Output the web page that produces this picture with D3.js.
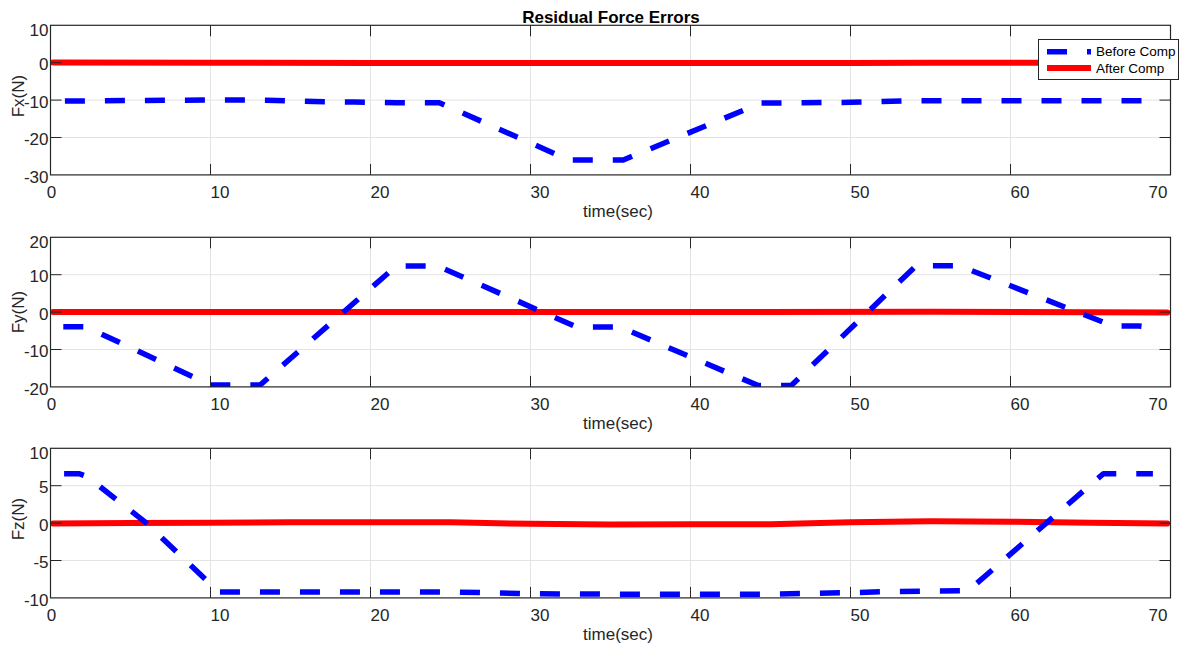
<!DOCTYPE html>
<html>
<head>
<meta charset="utf-8">
<script src="https://cdn.jsdelivr.net/npm/d3@7"></script>
<style>
  html, body { margin: 0; padding: 0; background: #ffffff; }
  svg { display: block; font-family: "Liberation Sans", Arial, Helvetica, sans-serif; }
</style>
</head>
<body>
<svg id="chart" width="1183" height="648"></svg>
<script>
// ---- data -------------------------------------------------------------
const chartTitle = "Residual Force Errors";
const xLabel = "time(sec)";
const xTicks = [0, 10, 20, 30, 40, 50, 60, 70];
const seriesNames = ["Before Comp", "After Comp"];

// Fx
const fxBeforeT = [0.9, 6, 11, 13.5, 16.5, 19, 21.6, 24.3, 32.4, 35.8, 44.4, 47, 50, 53.5, 69.1];
const fxBeforeV = [-10.25, -10.1, -9.95, -10.05, -10.4, -10.5, -10.7, -10.7, -26.0, -26.0, -10.8, -10.7, -10.6, -10.2, -10.2];
const fxAfterT = [0.15, 10, 20, 30, 40, 50, 55, 60, 69.8];
const fxAfterV = [0.05, 0, -0.05, -0.1, -0.1, -0.05, 0, 0, 0];
const fxTicks = [-30, -20, -10, 0, 10];

// Fy
const fyBeforeT = [0.8, 2.2, 10.0, 13.1, 21.6, 24.2, 32.9, 35.6, 44.2, 46.3, 54.1, 56.8, 66.4, 68.0, 69.1];
const fyBeforeV = [-3.9, -3.9, -19.5, -19.5, 12.3, 12.3, -4.0, -4.0, -19.6, -19.6, 12.4, 12.4, -3.7, -3.7, -4.3];
const fyAfterT = [0.15, 20, 40, 55, 69.8];
const fyAfterV = [0, 0.05, 0, 0.1, -0.1];
const fyTicks = [-20, -10, 0, 10, 20];

// Fz
const fzBeforeT = [0.85, 1.8, 2.3, 6.0, 10.5, 20, 25, 30, 35, 45, 50, 52.5, 57.35, 65.8, 68.9];
const fzBeforeV = [6.6, 6.6, 6.2, 0, -9.2, -9.2, -9.2, -9.45, -9.5, -9.5, -9.3, -9.15, -9.05, 6.6, 6.6];
const fzAfterT = [0.15, 5, 10, 15, 20, 25, 30, 35, 40, 45, 50, 55, 60, 65, 69.8];
const fzAfterV = [-0.05, 0, 0.05, 0.1, 0.13, 0.1, -0.1, -0.2, -0.17, -0.17, 0.1, 0.25, 0.18, 0.05, -0.05];
const fzTicks = [-10, -5, 0, 5, 10];

// ---- layout -----------------------------------------------------------
const svg = d3.select("#chart");
const left = 50.5, right = 1170.5;
const panelTops = [25.3, 237.3, 448.3];
const panelH = 149.6;
const tickLen = 11;
const axisColor = "#262626";
const gridColor = "#e3e3e3";
const fontSize = 17;

const panels = [
  { label: "Fx(N)", domain: [-30, 10], ticks: fxTicks, bT: fxBeforeT, bV: fxBeforeV, aT: fxAfterT, aV: fxAfterV, labelShift: -4 },
  { label: "Fy(N)", domain: [-20, 20], ticks: fyTicks, bT: fyBeforeT, bV: fyBeforeV, aT: fyAfterT, aV: fyAfterV, labelShift: 0 },
  { label: "Fz(N)", domain: [-10, 10], ticks: fzTicks, bT: fzBeforeT, bV: fzBeforeV, aT: fzAfterT, aV: fzAfterV, labelShift: -4 }
];

const x = d3.scaleLinear().domain([0, 70]).range([left, right]);

const defs = svg.append("defs");

panels.forEach((p, i) => {
  const top = panelTops[i], bottom = top + panelH;
  const y = d3.scaleLinear().domain(p.domain).range([bottom, top]);
  const g = svg.append("g");

  // grid
  g.append("g").selectAll("line").data(xTicks.slice(1, -1)).join("line")
    .attr("x1", d => x(d)).attr("x2", d => x(d))
    .attr("y1", top).attr("y2", bottom)
    .attr("stroke", gridColor).attr("stroke-width", 1);
  g.append("g").selectAll("line").data(p.ticks.slice(1, -1)).join("line")
    .attr("x1", left).attr("x2", right)
    .attr("y1", d => y(d)).attr("y2", d => y(d))
    .attr("stroke", gridColor).attr("stroke-width", 1);

  // data lines, clipped to the plot box
  const clipId = "clip" + i;
  defs.append("clipPath").attr("id", clipId)
    .append("rect").attr("x", left).attr("y", top).attr("width", right - left).attr("height", panelH);

  const line = d3.line().x(d => x(d[0])).y(d => y(d[1]));
  const before = p.bT.map((t, k) => [t, p.bV[k]]);
  const after = p.aT.map((t, k) => [t, p.aV[k]]);
  const dataG = g.append("g").attr("clip-path", `url(#${clipId})`);
  dataG.append("path").datum(after).attr("d", line)
    .attr("fill", "none").attr("stroke", "#ff0000").attr("stroke-width", 6)
    .attr("stroke-linejoin", "round").attr("stroke-linecap", "round");
  dataG.append("path").datum(before).attr("d", line)
    .attr("fill", "none").attr("stroke", "#0000ff").attr("stroke-width", 5.5)
    .attr("stroke-dasharray", "20,20").attr("stroke-linejoin", "round");

  // ticks (inside, all four sides)
  const tk = g.append("g").attr("stroke", axisColor).attr("stroke-width", 1);
  xTicks.slice(1, -1).forEach(d => {
    tk.append("line").attr("x1", x(d)).attr("x2", x(d)).attr("y1", bottom).attr("y2", bottom - tickLen);
    tk.append("line").attr("x1", x(d)).attr("x2", x(d)).attr("y1", top).attr("y2", top + tickLen);
  });
  p.ticks.slice(1, -1).forEach(d => {
    tk.append("line").attr("x1", left).attr("x2", left + tickLen).attr("y1", y(d)).attr("y2", y(d));
    tk.append("line").attr("x1", right).attr("x2", right - tickLen).attr("y1", y(d)).attr("y2", y(d));
  });

  // box
  g.append("rect").attr("x", left).attr("y", top).attr("width", right - left).attr("height", panelH)
    .attr("fill", "none").attr("stroke", axisColor).attr("stroke-width", 1.2);

  // x tick labels
  g.append("g").selectAll("text").data(xTicks).join("text")
    .attr("x", (d, k) => k === 0 ? x(d) + 1 : (k === xTicks.length - 1 ? x(d) - 3 : x(d)))
    .attr("y", bottom + 17.5)
    .attr("dy", "0.35em")
    .attr("text-anchor", (d, k) => k === 0 ? "middle" : (k === xTicks.length - 1 ? "end" : "start"))
    .attr("font-size", fontSize).attr("fill", axisColor)
    .text(d => d);

  // y tick labels
  g.append("g").selectAll("text").data(p.ticks).join("text")
    .attr("x", left - 2)
    .attr("y", (d, k) => y(d) + (k === p.ticks.length - 1 ? 5.2 : 1.8))
    .attr("dy", "0.35em")
    .attr("text-anchor", "end")
    .attr("font-size", fontSize).attr("fill", axisColor)
    .text(d => d);

  // axis labels
  g.append("text")
    .attr("x", 618).attr("y", bottom + 42.4)
    .attr("text-anchor", "middle")
    .attr("font-size", fontSize).attr("fill", axisColor)
    .text(xLabel);
  g.append("text")
    .attr("transform", `translate(18.5,${(top + bottom) / 2 + p.labelShift}) rotate(-90)`)
    .attr("dy", "0.35em")
    .attr("text-anchor", "middle")
    .attr("font-size", fontSize).attr("fill", axisColor)
    .text(p.label);
});

// title
svg.append("text")
  .attr("x", 611).attr("y", 22.5)
  .attr("text-anchor", "middle")
  .attr("font-size", 17).attr("font-weight", "bold").attr("fill", "#000")
  .text(chartTitle);

// legend
const lg = svg.append("g");
lg.append("rect").attr("x", 1038.5).attr("y", 39.5).attr("width", 140).attr("height", 40)
  .attr("fill", "#ffffff").attr("stroke", axisColor).attr("stroke-width", 1);
const legendRows = [
  { name: seriesNames[0], color: "#0000ff", dash: "20,20", w: 5.5, y: 51.7 },
  { name: seriesNames[1], color: "#ff0000", dash: null, w: 6, y: 68 }
];
legendRows.forEach(r => {
  lg.append("line").attr("x1", 1047).attr("x2", 1091).attr("y1", r.y).attr("y2", r.y)
    .attr("stroke", r.color).attr("stroke-width", r.w)
    .attr("stroke-dasharray", r.dash);
  lg.append("text").attr("x", 1096).attr("y", r.y).attr("dy", "0.35em")
    .attr("font-size", 13.5).attr("fill", "#000").text(r.name);
});
</script>
</body>
</html>
